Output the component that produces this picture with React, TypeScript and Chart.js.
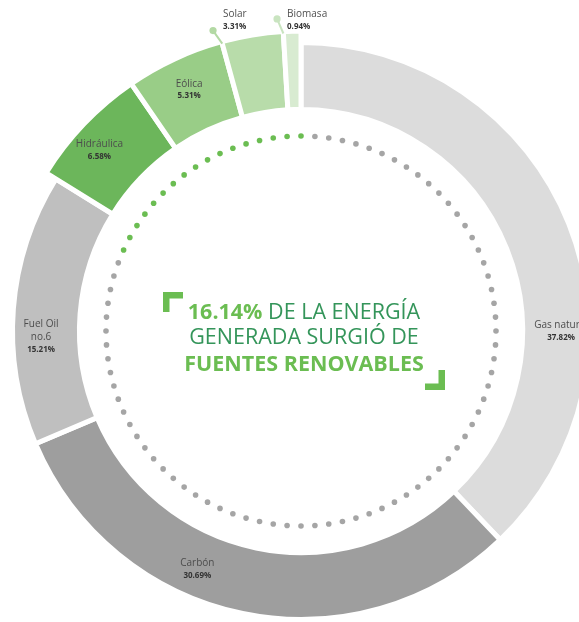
import React, { useEffect, useRef } from 'react';
import { Chart, registerables } from 'chart.js';

Chart.register(...registerables);

// ---------- data ----------
const categories = ['Gas natural', 'Carbón', 'Fuel Oil no.6', 'Hidráulica', 'Eólica', 'Solar', 'Biomasa'];
const categoryLines = [['Gas natural'], ['Carbón'], ['Fuel Oil', 'no.6'], ['Hidráulica'], ['Eólica'], ['Solar'], ['Biomasa']];
const shares = [37.82, 30.69, 15.21, 6.58, 5.31, 3.31, 0.94];
const shareLabels = ['37.82%', '30.69%', '15.21%', '6.58%', '5.31%', '3.31%', '0.94%'];
const isRenewable = [false, false, false, true, true, true, true];
const headlineRest = [' DE LA ENERGÍA', 'GENERADA SURGIÓ DE', 'FUENTES RENOVABLES'];

// ---------- styles ----------
const segmentColors = ['#dcdcdc', '#9e9e9e', '#bfbfbf', '#6cb65b', '#99cd87', '#b8dcaa', '#d8ebd1'];
const dotColors = ['#dcdcdc', '#9e9e9e', '#bfbfbf', '#6cb65b', '#99cd87', '#b3d9a4', '#c9e4c0'];
const outsideLabel = [false, false, false, false, false, true, true];
// label angle overrides (degrees clockwise from 12 o'clock); null = middle of the slice
const labelAngleDeg: (number | null)[] = [90, 203.5, 268.7, 311.9, null, null, null];
const labelRadiusShift = [5, 5, 5, 10, 5, 0, 0];
const GREEN_DOT_SPAN_DEG = 68;
const FONT = "'Open Sans', 'Noto Sans', sans-serif";
const BRIGHT_GREEN = '#6bbd52';
const DARK_GREEN = '#34955a';

const renewableTotal = shares.reduce((s, v, i) => (isRenewable[i] ? s + v : s), 0);
const renewableText = renewableTotal.toFixed(2) + '%';

const deg2chart = (d: number) => ((d - 90) * Math.PI) / 180;

const decorPlugin = {
  id: 'decor',
  afterDatasetUpdate(chart: any, args: any) {
    const meta = args.meta;
    meta.data.forEach((arc: any, i: number) => {
      if (isRenewable[i]) arc.outerRadius = arc.outerRadius + 11.5;
    });
  },
  beforeDatasetsDraw(chart: any) {
    const ctx = chart.ctx;
    const arc0 = chart.getDatasetMeta(0).data[0] as any;
    const cx = arc0.x;
    const cy = arc0.y;
    // dotted inner ring
    const ringR = 195;
    const n = 88;
    ctx.save();
    for (let k = 0; k < n; k++) {
      const d = (k * 360) / n;
      const green = d === 0 || d >= 360 - GREEN_DOT_SPAN_DEG;
      const a = deg2chart(d);
      ctx.beginPath();
      ctx.arc(cx + ringR * Math.cos(a), cy + ringR * Math.sin(a), 2.8, 0, Math.PI * 2);
      ctx.fillStyle = green ? BRIGHT_GREEN : '#a5a5a5';
      ctx.fill();
    }
    // center headline
    const fs = 21.5;
    ctx.textBaseline = 'middle';
    ctx.textAlign = 'left';
    const tx = cx + 3;
    ctx.font = `700 ${fs}px ${FONT}`;
    const w1a = ctx.measureText(renewableText).width;
    ctx.font = `400 ${fs}px ${FONT}`;
    const w1b = ctx.measureText(headlineRest[0]).width;
    const x = tx - (w1a + w1b) / 2;
    ctx.font = `700 ${fs}px ${FONT}`;
    ctx.fillStyle = BRIGHT_GREEN;
    ctx.fillText(renewableText, x, cy - 18);
    ctx.font = `400 ${fs}px ${FONT}`;
    ctx.fillStyle = DARK_GREEN;
    ctx.fillText(headlineRest[0], x + w1a, cy - 18);
    ctx.textAlign = 'center';
    ctx.fillText(headlineRest[1], tx, cy + 7);
    ctx.font = `700 ${fs}px ${FONT}`;
    ctx.fillStyle = BRIGHT_GREEN;
    ctx.fillText(headlineRest[2], tx, cy + 34);
    // corner brackets
    const t = 6.5;
    const L = 20;
    ctx.fillStyle = BRIGHT_GREEN;
    const tl = { x: cx - 138, y: cy - 39 };
    ctx.fillRect(tl.x, tl.y, L, t);
    ctx.fillRect(tl.x, tl.y, t, L);
    const br = { x: cx + 144, y: cy + 59 };
    ctx.fillRect(br.x - L, br.y - t, L, t);
    ctx.fillRect(br.x - t, br.y - L, t, L);
    ctx.restore();
  },
  afterDatasetsDraw(chart: any) {
    const ctx = chart.ctx;
    const arcs = chart.getDatasetMeta(0).data as any[];
    ctx.save();
    arcs.forEach((arc, i) => {
      const cx = arc.x;
      const cy = arc.y;
      if (outsideLabel[i]) {
        const a = arc.startAngle - (1.0 * Math.PI) / 180;
        const rDot = 313;
        const dx = cx + rDot * Math.cos(a);
        const dy = cy + rDot * Math.sin(a);
        const ex = cx + (arc.outerRadius - 2) * Math.cos(arc.startAngle);
        const ey = cy + (arc.outerRadius - 2) * Math.sin(arc.startAngle);
        ctx.strokeStyle = dotColors[i];
        ctx.lineWidth = 2;
        ctx.beginPath();
        ctx.moveTo(dx, dy);
        ctx.lineTo(ex, ey);
        ctx.stroke();
        ctx.fillStyle = dotColors[i];
        ctx.beginPath();
        ctx.arc(dx, dy, 3.6, 0, Math.PI * 2);
        ctx.fill();
        ctx.textAlign = 'left';
        ctx.textBaseline = 'middle';
        ctx.font = `400 10px ${FONT}`;
        ctx.fillStyle = '#505050';
        ctx.fillText(categoryLines[i][0], dx + 10, cy - 316.5);
        ctx.font = `700 8px ${FONT}`;
        ctx.fillStyle = '#333333';
        ctx.fillText(shareLabels[i], dx + 10, cy - 304.5);
        return;
      }
      const override = labelAngleDeg[i];
      const a = override == null ? (arc.startAngle + arc.endAngle) / 2 : deg2chart(override);
      const r = (arc.innerRadius + arc.outerRadius) / 2 + labelRadiusShift[i];
      const px = cx + r * Math.cos(a);
      const py = cy + r * Math.sin(a);
      const lines = categoryLines[i];
      const lh = 12.5;
      const total = lines.length + 1;
      const top = py - ((total - 1) * lh) / 2;
      ctx.textAlign = 'center';
      ctx.textBaseline = 'middle';
      ctx.font = `400 10px ${FONT}`;
      ctx.fillStyle = '#4d4d4d';
      lines.forEach((ln, j) => ctx.fillText(ln, px, top + j * lh));
      ctx.font = `700 8px ${FONT}`;
      ctx.fillStyle = '#333333';
      ctx.fillText(shareLabels[i], px, top + lines.length * lh);
    });
    ctx.restore();
  },
};

export default function App() {
  const canvasRef = useRef<HTMLCanvasElement | null>(null);

  useEffect(() => {
    const canvas = canvasRef.current;
    if (!canvas) return;
    const chart = new Chart(canvas, {
      type: 'doughnut',
      data: {
        labels: categories,
        datasets: [
          {
            data: shares,
            backgroundColor: segmentColors,
            borderColor: '#ffffff',
            borderWidth: 5,
            borderAlign: 'center',
            borderJoinStyle: 'miter',
            hoverOffset: 0,
            hoverBorderWidth: 5,
            clip: false,
          } as any,
        ],
      },
      options: {
        responsive: false,
        animation: false,
        cutout: '76.8%',
        rotation: 0,
        layout: { padding: 40 },
        events: [],
        plugins: {
          legend: { display: false },
          tooltip: { enabled: false },
        },
      },
      plugins: [decorPlugin],
    });
    return () => chart.destroy();
  }, []);

  return (
    <div
      style={{
        position: 'fixed',
        left: 0,
        top: 0,
        width: 579,
        height: 622,
        overflow: 'hidden',
        background: '#ffffff',
      }}
    >
      <canvas
        ref={canvasRef}
        width={662}
        height={662}
        style={{ position: 'absolute', left: -30, top: 0, width: 662, height: 662 }}
      />
    </div>
  );
}
